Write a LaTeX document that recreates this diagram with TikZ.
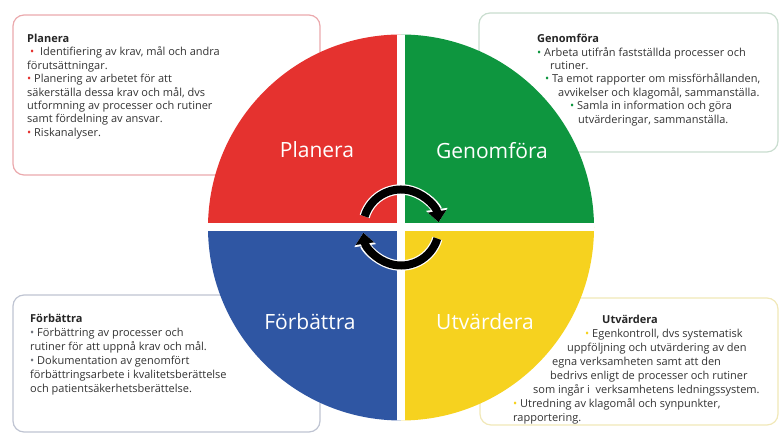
\documentclass[tikz,border=0pt]{standalone}
\usepackage{fontspec}
\setmainfont{Open Sans}
\usetikzlibrary{arrows.meta,calc}
\definecolor{planred}{HTML}{E5322F}
\definecolor{doegreen}{HTML}{0E963F}
\definecolor{impblue}{HTML}{2F56A3}
\definecolor{evalyellow}{HTML}{F6D21F}
\definecolor{redframe}{HTML}{EBA9AD}
\definecolor{greenframe}{HTML}{C9DDCF}
\definecolor{blueframe}{HTML}{BFC4D2}
\definecolor{yellowframe}{HTML}{F1E8B8}
\definecolor{bodytext}{HTML}{333333}
\tikzset{
%Define standard arrow tip
>={Triangle[width=18pt,length=11pt]},
%Define styles for the boxes and their texts
infobox/.style={line width=1.2pt, rounded corners=11pt, fill=white},
infotext/.style={anchor=north west, inner sep=0pt, align=left, text=bodytext,
  font=\fontsize{11}{13.4}\selectfont},
quadlabel/.style={text=white, font=\fontsize{21}{23}\selectfont},
cycle arrow/.style={->, line width=8pt},
cycle halo/.style={->, line width=10.5pt, white,
  >={Triangle[width=21pt,length=13pt]}},
}
\newcommand{\blt}[1]{{\color{#1}•}}
\newcommand{\boxtitle}[1]{{\bfseries\color{black!85}#1}}

\begin{document}
\begin{tikzpicture}[x=1pt,y=1pt]
    \useasboundingbox (0,0) rectangle (782,435);
    % Let us define some coordinates
    \path
    coordinate (mid) at (401,207.5)
    coordinate (cross) at (401,207.5);

    % Boxes behind the wheel
    \draw[infobox, draw=redframe] (13,420) rectangle (320,260);
    \draw[infobox, draw=greenframe] (479,422) rectangle (778,283);
    \draw[infobox, draw=blueframe] (13,140) rectangle (320,3);
    \draw[infobox, draw=yellowframe] (480,137) rectangle (778,10);

    % The wheel
    \begin{scope}
      \clip (mid) circle (193);
      \fill[planred] (mid) rectangle ++(-200,200);
      \fill[doegreen] (mid) rectangle ++(200,200);
      \fill[impblue] (mid) rectangle ++(-200,-200);
      \fill[evalyellow] (mid) rectangle ++(200,-200);
      \draw[white, line width=8pt] ($(cross)+(0,-200)$) -- ($(cross)+(0,200)$)
        ($(cross)+(-200,0)$) -- ($(cross)+(200,0)$);
    \end{scope}

    % Labels on the wheel
    \node[quadlabel] (lplanera) at (317,285) {Planera};
    \node[quadlabel] (lgenom) at (492,284) {Genomföra};
    \node[quadlabel] (lforb) at (310,113) {Förbättra};
    \node[quadlabel] (lutv) at (485,113) {Utvärdera};

    % Arrows in the middle
    \draw[cycle halo] (mid) ++(163:38) arc[start angle=163, end angle=8, radius=38];
    \draw[cycle arrow] (mid) ++(163:38) arc[start angle=163, end angle=8, radius=38];
    \draw[cycle halo] (mid) ++(-17:38) arc[start angle=-17, end angle=-172, radius=38];
    \draw[cycle arrow] (mid) ++(-17:38) arc[start angle=-17, end angle=-172, radius=38];

    % Texts in the boxes
    \node[infotext] (tplanera) at (27,401) {\boxtitle{Planera}\\
      \hspace*{3pt}\blt{planred}\ \ Identifiering av krav, mål och andra\\
      förutsättningar.\\
      \blt{planred} Planering av arbetet för att\\
      säkerställa dessa krav och mål, dvs\\
      utformning av processer och rutiner\\
      samt fördelning av ansvar.\\
      \blt{planred} Riskanalyser.};
    \node[infotext] (tgenom) at (537,401) {\boxtitle{Genomföra}\\
      \blt{doegreen} Arbeta utifrån fastställda processer och\\
      \hspace*{13pt}rutiner.\\
      \hspace*{8pt}\blt{doegreen} Ta emot rapporter om missförhållanden,\\
      \hspace*{21pt}avvikelser och klagomål, sammanställa.\\
      \hspace*{33pt}\blt{doegreen} Samla in information och göra\\
      \hspace*{41pt}utvärderingar, sammanställa.};
    \node[infotext, font=\fontsize{11}{14}\selectfont] (tforb) at (30,121) {\boxtitle{Förbättra}\\
      \blt{blueframe!60!black} Förbättring av processer och\\
      rutiner för att uppnå krav och mål.\\
      \blt{blueframe!60!black} Dokumentation av genomfört\\
      förbättringsarbete i kvalitetsberättelse\\
      och patientsäkerhetsberättelse.};
    \node[infotext, font=\fontsize{11}{14}\selectfont] (tutv) at (513,120) {\hspace*{89pt}\boxtitle{Utvärdera}\\
      \hspace*{72pt}\blt{evalyellow} Egenkontroll, dvs systematisk\\
      \hspace*{54pt}uppföljning och utvärdering av den\\
      \hspace*{39pt}egna verksamheten samt att den\\
      \hspace*{37pt}bedrivs enligt de processer och rutiner\\
      \hspace*{20pt}som ingår i\ \ verksamhetens ledningssystem.\\
      \blt{evalyellow} Utredning av klagomål och synpunkter,\\
      rapportering.};
\end{tikzpicture}
\end{document}
